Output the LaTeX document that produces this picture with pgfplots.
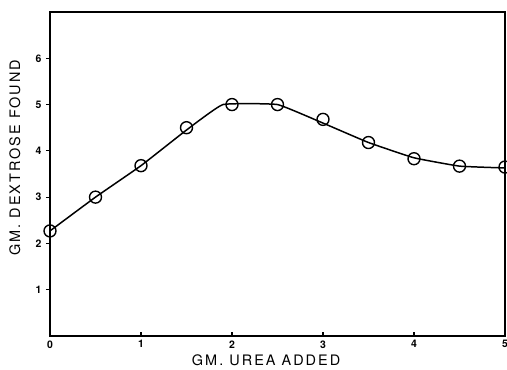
\documentclass[border=0pt]{standalone}
\usepackage{pgfplots}
\pgfplotsset{compat=1.18}
\usepackage{fontspec}
\setmainfont{TeX Gyre Heros}
\newfontfamily\labelfont[LetterSpace=14]{TeX Gyre Heros}
\begin{document}
\begin{tikzpicture}
\begin{axis}[
  name=ax,
  scale only axis,
  width=455bp, height=324bp,
  xmin=0, xmax=5, ymin=0, ymax=7,
  xtick={0,1,2,3,4,5},
  ytick={1,2,3,4,5,6},
  axis line style={line width=1.6pt},
  tick style={black, line width=1.2pt},
  xtick align=inside,
  ytick align=outside,
  major tick length=4bp,
  xtick pos=bottom, ytick pos=left,
  /pgf/number format/assume math mode=true,
  ticklabel style={font=\bfseries\fontsize{10.5}{11}\selectfont},
  xticklabel style={yshift=-1bp},
  yticklabel style={xshift=-1bp},
  xlabel={GM. UREA ADDED},
  ylabel={GM. DEXTROSE FOUND},
  every axis x label/.style={at={(axis description cs:0.475,-0.074)}, anchor=center, font=\labelfont\fontsize{14.5}{16}\selectfont},
  every axis y label/.style={at={(axis description cs:-0.077,0.55)}, rotate=90, anchor=center, font=\labelfont\fontsize{14.5}{16}\selectfont},
  clip=false,
]
\addplot[black, line width=1.5pt, smooth, tension=0.2, no marks] coordinates {
 (0,2.27) (0.5,3.0) (1,3.68) (1.5,4.45) (1.9,5.0) (2.5,5.0) (3,4.6) (3.5,4.18) (4,3.85) (4.5,3.67) (5,3.63)
};
\addplot[only marks, mark=o, mark size=6bp, mark options={fill=white, draw=black, line width=1.4pt}] coordinates {
 (0,2.27) (0.5,3.0) (1,3.68) (1.5,4.5) (2,5.0) (2.5,5.0) (3,4.68) (3.5,4.18) (4,3.83) (4.5,3.67) (5,3.65)
};
\end{axis}
\pgfresetboundingbox
\path[use as bounding box] ([xshift=-50bp,yshift=-34bp]ax.south west) rectangle ([xshift=2bp,yshift=12bp]ax.north east);
\end{tikzpicture}
\end{document}
